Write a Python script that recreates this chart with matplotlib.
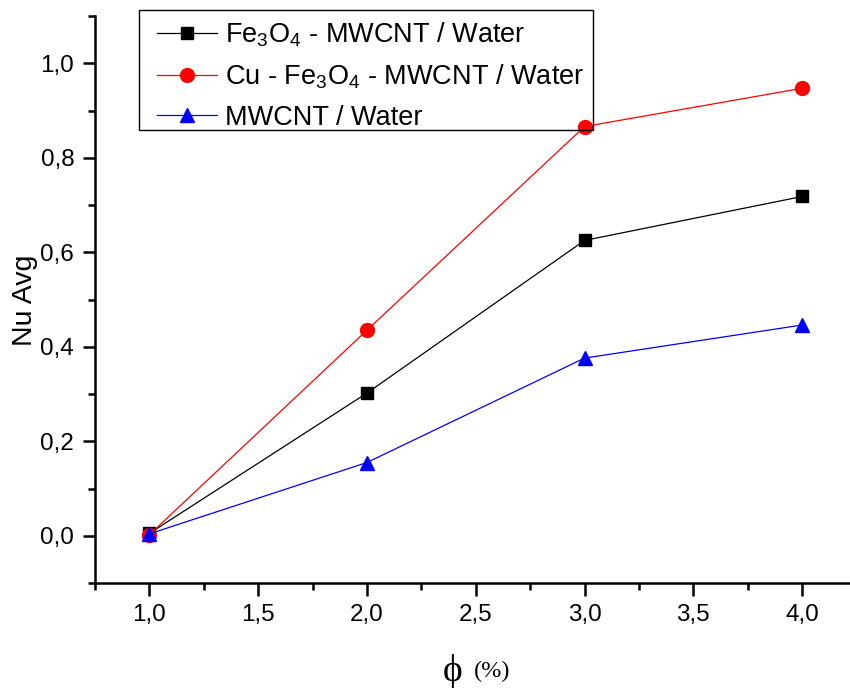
import matplotlib
matplotlib.use("Agg")
import matplotlib.pyplot as plt
from matplotlib.patches import Rectangle
from matplotlib.ticker import MultipleLocator, FuncFormatter

phi = [1.0, 2.0, 3.0, 4.0]
fe3o4_mwcnt = [0.005, 0.302, 0.625, 0.718]
cu_fe3o4_mwcnt = [0.002, 0.435, 0.866, 0.947]
mwcnt = [0.004, 0.155, 0.376, 0.446]

labels = [r"Fe$_3$O$_4$ - MWCNT / Water",
          r"Cu - Fe$_3$O$_4$ - MWCNT / Water",
          "MWCNT / Water"]

plt.rcParams['font.family'] = ['Liberation Sans', 'DejaVu Sans']
plt.rcParams['mathtext.fontset'] = 'custom'
plt.rcParams['mathtext.rm'] = 'Liberation Sans'
plt.rcParams['mathtext.it'] = 'Liberation Sans'

W, H = 850, 688
fig = plt.figure(figsize=(8.5, 6.88), dpi=100)
ax = fig.add_axes([95/W, 105/H, 1 - 95/W, (583-16)/H])

ax.plot(phi, fe3o4_mwcnt, color='black', lw=0.9, marker='s', ms=8.5, label=labels[0])
ax.plot(phi, cu_fe3o4_mwcnt, color='red', lw=0.9, marker='o', ms=10, label=labels[1])
ax.plot(phi, mwcnt, color='blue', lw=0.9, marker='^', ms=10.5, label=labels[2])

ax.set_xlim(0.75, 4.22)
ax.set_ylim(-0.1, 1.1)
ax.xaxis.set_major_locator(MultipleLocator(0.5))
ax.xaxis.set_minor_locator(MultipleLocator(0.25))
ax.yaxis.set_major_locator(MultipleLocator(0.2))
ax.yaxis.set_minor_locator(MultipleLocator(0.1))
fmt = FuncFormatter(lambda v, p: f"{v:.1f}".replace('.', ','))
ax.xaxis.set_major_formatter(fmt)
ax.yaxis.set_major_formatter(fmt)
ax.tick_params(which='major', direction='out', length=9, width=1.8, labelsize=17.5, pad=6)
ax.tick_params(which='minor', direction='out', length=5, width=1.8)
for s in ['top', 'right']:
    ax.spines[s].set_visible(False)
for s in ['left', 'bottom']:
    ax.spines[s].set_linewidth(1.8)

fig.text(25/W, 1 - 300/H, "Nu Avg", fontsize=20.5, rotation=90, ha='center', va='center')

fig.text(462/W, 1 - 681/H, "ϕ", fontsize=27, family=['Liberation Serif', 'DejaVu Serif'],
         ha='right', va='baseline')
fig.text(474/W, 1 - 677/H, "(%)", fontsize=17.5, family='Liberation Serif', ha='left', va='baseline')

leg = ax.legend(loc='upper left', bbox_to_anchor=(147.5/W, 1 - 11/H), bbox_transform=fig.transFigure,
                fontsize=19.5, frameon=False,
                handlelength=2.2, handletextpad=0.3, borderpad=0.35, labelspacing=0.5, borderaxespad=0)
fig.patches.append(Rectangle((139/W, 1 - 130/H), (593-139)/W, 120/H, transform=fig.transFigure,
                             facecolor='none', edgecolor='black', lw=1.0, zorder=10))

fig.savefig("out.png", dpi=100)
